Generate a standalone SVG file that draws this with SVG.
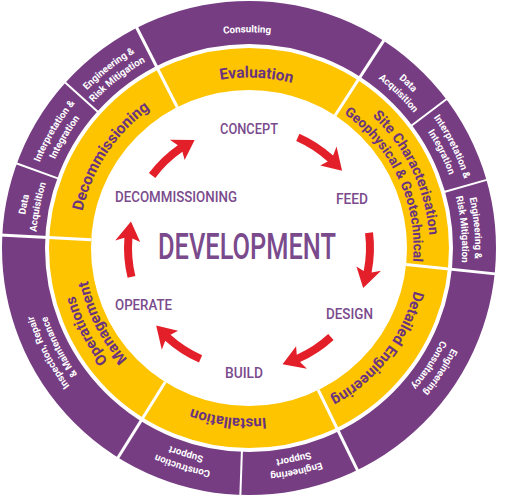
<svg xmlns="http://www.w3.org/2000/svg" width="510" height="498" viewBox="0 0 510 498">
<style>
  .ringP { fill: none; stroke: #763d83; stroke-width: 43; }
  .ringY { fill: none; stroke: #fec400; stroke-width: 42; }
  .sep { stroke: #ffffff; stroke-width: 3; }
  .sep2 { stroke: #ffffff; stroke-width: 2; }
  .yt { font-family: Roboto, "Liberation Sans", sans-serif; font-weight: 700; fill: #6a3380; }
  .pt { font-family: Roboto, "Liberation Sans", sans-serif; font-weight: 700; font-size: 9.8px; fill: #ffffff; }
  .lbl { font-family: Roboto, "Liberation Sans", sans-serif; font-weight: 500; font-size: 15.5px; fill: #7a4a8c; text-anchor: middle; }
  .big { font-family: Roboto, "Liberation Sans", sans-serif; font-weight: 500; font-size: 36.5px; fill: #7a4a8c; text-anchor: middle; }
  .arrow { fill: #e3202a; }
</style>
<defs>
  <path id="y1" d="M 81.09 218.39 A 170.5 170.5 0 0 1 416.91 218.39"/>
  <path id="y2" d="M 71.24 216.66 A 180.5 180.5 0 0 1 426.76 216.66"/>
  <path id="y3" d="M 87.0 219.43 A 164.5 164.5 0 0 1 411.0 219.43"/>
  <path id="p0" d="M 36.67 210.56 A 215.6 215.6 0 0 1 461.33 210.56"/>
  <path id="p1" d="M 26.33 208.74 A 226.1 226.1 0 0 1 471.67 208.74"/>
  <path id="p2" d="M 39.14 211.0 A 213.1 213.1 0 0 1 458.86 211.0"/>
  <path id="arrow" class="arrow" d="M 0,-125 A 125 125 0 0 1 39.66,-118.54 L 39.18,-128.14 L 53.99,-108.28 L 31.87,-104.23 L 37.12,-110.95 A 117 117 0 0 0 0,-117 Z"/>
</defs>
<rect x="0" y="0" width="510" height="498" fill="#ffffff"/>

<g id="rings">
  <circle class="ringP" cx="249" cy="248" r="225.5"/>
  <circle class="ringY" cx="249" cy="248" r="179"/>
</g>

<g id="separators">
  <line class="sep" x1="249" y1="90" x2="249" y2="-2" transform="rotate(-27 249 248)"/>
  <line class="sep" x1="249" y1="90" x2="249" y2="-2" transform="rotate(33 249 248)"/>
  <line class="sep" x1="249" y1="90" x2="249" y2="-2" transform="rotate(96 249 248)"/>
  <line class="sep" x1="249" y1="90" x2="249" y2="-2" transform="rotate(154 249 248)"/>
  <line class="sep" x1="249" y1="90" x2="249" y2="-2" transform="rotate(212 249 248)"/>
  <line class="sep" x1="249" y1="90" x2="249" y2="-2" transform="rotate(273 249 248)"/>
  <line class="sep2" x1="249" y1="46" x2="249" y2="-2" transform="rotate(53 249 248)"/>
  <line class="sep2" x1="249" y1="46" x2="249" y2="-2" transform="rotate(74 249 248)"/>
  <line class="sep2" x1="249" y1="46" x2="249" y2="-2" transform="rotate(182 249 248)"/>
  <line class="sep2" x1="249" y1="46" x2="249" y2="-2" transform="rotate(290 249 248)"/>
  <line class="sep2" x1="249" y1="46" x2="249" y2="-2" transform="rotate(312 249 248)"/>
</g>

<g id="stage-evaluation">
  <text class="yt" font-size="15.5" transform="rotate(2.5 249 248)"><textPath href="#y1" startOffset="50%" text-anchor="middle">Evaluation</textPath></text>
</g>
<g id="stage-site-characterisation">
  <text class="yt" font-size="14.3" transform="rotate(64.5 249 248)"><textPath href="#y2" startOffset="50%" text-anchor="middle">Site Characterisation</textPath></text>
  <text class="yt" font-size="13.6" transform="rotate(65 249 248)"><textPath href="#y3" startOffset="50%" text-anchor="middle">Geophysical &amp; Geotechnical</textPath></text>
</g>
<g id="stage-detailed-engineering">
  <text class="yt" font-size="15" transform="rotate(128 249 248)"><textPath href="#y1" startOffset="50%" text-anchor="middle">Detailed Engineering</textPath></text>
</g>
<g id="stage-installation">
  <text class="yt" font-size="15" transform="rotate(187 249 248)"><textPath href="#y1" startOffset="50%" text-anchor="middle">Installation</textPath></text>
</g>
<g id="stage-operations">
  <text class="yt" font-size="15" transform="rotate(243 249 248)"><textPath href="#y2" startOffset="50%" text-anchor="middle">Operations</textPath></text>
  <text class="yt" font-size="15" transform="rotate(243 249 248)"><textPath href="#y3" startOffset="50%" text-anchor="middle">Management</textPath></text>
</g>
<g id="stage-decommissioning">
  <text class="yt" font-size="15.5" transform="rotate(-56.5 249 248)"><textPath href="#y1" startOffset="50%" text-anchor="middle">Decommissioning</textPath></text>
</g>

<g id="svc-consulting">
  <text class="pt" transform="rotate(-0.5 249 248)"><textPath href="#p0" startOffset="50%" text-anchor="middle">Consulting</textPath></text>
</g>
<g id="svc-data-acquisition-r">
  <text class="pt" transform="rotate(44 249 248)"><textPath href="#p1" startOffset="50%" text-anchor="middle">Data</textPath></text>
  <text class="pt" transform="rotate(44 249 248)"><textPath href="#p2" startOffset="50%" text-anchor="middle">Acquisition</textPath></text>
</g>
<g id="svc-interpretation-r">
  <text class="pt" transform="rotate(63.5 249 248)"><textPath href="#p1" startOffset="50%" text-anchor="middle">Interpretation &amp;</textPath></text>
  <text class="pt" transform="rotate(63.5 249 248)"><textPath href="#p2" startOffset="50%" text-anchor="middle">Integration</textPath></text>
</g>
<g id="svc-risk-r">
  <text class="pt" transform="rotate(85 249 248)"><textPath href="#p1" startOffset="50%" text-anchor="middle">Engineering &amp;</textPath></text>
  <text class="pt" transform="rotate(85 249 248)"><textPath href="#p2" startOffset="50%" text-anchor="middle">Risk Mitigation</textPath></text>
</g>
<g id="svc-eng-consultancy">
  <text class="pt" transform="rotate(123 249 248)"><textPath href="#p1" startOffset="50%" text-anchor="middle">Engineering</textPath></text>
  <text class="pt" transform="rotate(123 249 248)"><textPath href="#p2" startOffset="50%" text-anchor="middle">Consultancy</textPath></text>
</g>
<g id="svc-eng-support">
  <text class="pt" transform="rotate(168 249 248)"><textPath href="#p1" startOffset="50%" text-anchor="middle">Engineering</textPath></text>
  <text class="pt" transform="rotate(168 249 248)"><textPath href="#p2" startOffset="50%" text-anchor="middle">Support</textPath></text>
</g>
<g id="svc-construction-support">
  <text class="pt" transform="rotate(197 249 248)"><textPath href="#p1" startOffset="50%" text-anchor="middle">Construction</textPath></text>
  <text class="pt" transform="rotate(197 249 248)"><textPath href="#p2" startOffset="50%" text-anchor="middle">Support</textPath></text>
</g>
<g id="svc-irm">
  <text class="pt" transform="rotate(242.5 249 248)"><textPath href="#p1" startOffset="50%" text-anchor="middle">Inspection, Repair</textPath></text>
  <text class="pt" transform="rotate(242.5 249 248)"><textPath href="#p2" startOffset="50%" text-anchor="middle">&amp; Maintenance</textPath></text>
</g>
<g id="svc-data-acquisition-l">
  <text class="pt" transform="rotate(281 249 248)"><textPath href="#p1" startOffset="50%" text-anchor="middle">Data</textPath></text>
  <text class="pt" transform="rotate(281 249 248)"><textPath href="#p2" startOffset="50%" text-anchor="middle">Acquisition</textPath></text>
</g>
<g id="svc-interpretation-l">
  <text class="pt" transform="rotate(301 249 248)"><textPath href="#p1" startOffset="50%" text-anchor="middle">Interpretation &amp;</textPath></text>
  <text class="pt" transform="rotate(301 249 248)"><textPath href="#p2" startOffset="50%" text-anchor="middle">Integration</textPath></text>
</g>
<g id="svc-risk-l">
  <text class="pt" transform="rotate(322 249 248)"><textPath href="#p1" startOffset="50%" text-anchor="middle">Engineering &amp;</textPath></text>
  <text class="pt" transform="rotate(322 249 248)"><textPath href="#p2" startOffset="50%" text-anchor="middle">Risk Mitigation</textPath></text>
</g>

<g id="connectors">
  <use href="#arrow" transform="translate(249 248) rotate(306.8)"/>
  <use href="#arrow" transform="translate(249 248) rotate(23.8)"/>
  <use href="#arrow" transform="translate(249 248) rotate(82.8)"/>
  <use href="#arrow" transform="translate(249 248) rotate(137.4)"/>
  <use href="#arrow" transform="translate(249 248) rotate(203.6)"/>
  <use href="#arrow" transform="translate(249 248) rotate(256.2)"/>
</g>

<g id="node-concept"><text class="lbl" x="249" y="134" textLength="58" lengthAdjust="spacingAndGlyphs">CONCEPT</text></g>
<g id="node-feed"><text class="lbl" x="352" y="204" textLength="32" lengthAdjust="spacingAndGlyphs">FEED</text></g>
<g id="node-design"><text class="lbl" x="349.5" y="319" textLength="47" lengthAdjust="spacingAndGlyphs">DESIGN</text></g>
<g id="node-build"><text class="lbl" x="244" y="378" textLength="38" lengthAdjust="spacingAndGlyphs">BUILD</text></g>
<g id="node-operate"><text class="lbl" x="143.5" y="310" textLength="57" lengthAdjust="spacingAndGlyphs">OPERATE</text></g>
<g id="node-decommissioning"><text class="lbl" x="176" y="202" textLength="122" lengthAdjust="spacingAndGlyphs">DECOMMISSIONING</text></g>
<g id="node-development"><text class="big" x="247" y="259" textLength="178" lengthAdjust="spacingAndGlyphs">DEVELOPMENT</text></g>
</svg>
